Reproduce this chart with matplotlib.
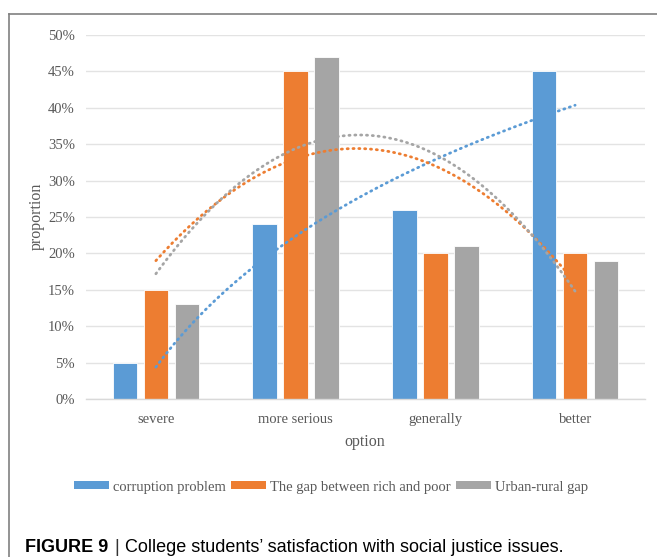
import numpy as np
import matplotlib
matplotlib.use("Agg")
import matplotlib.pyplot as plt
from matplotlib.lines import Line2D
from matplotlib.patches import Patch

# Survey results (percent of respondents)
categories = ["severe", "more serious", "generally", "better"]
corruption = [5, 24, 26, 45]
rich_poor_gap = [15, 45, 20, 20]
urban_rural_gap = [13, 47, 21, 19]
series_names = ["corruption problem", "The gap between rich and poor", "Urban-rural gap"]
y_ticks = [0, 5, 10, 15, 20, 25, 30, 35, 40, 45, 50]

colors = ["#5B9BD5", "#ED7D31", "#A5A5A5"]
text_color = "#595959"
serif = ["Liberation Serif", "DejaVu Serif"]
sans = ["Liberation Sans", "DejaVu Sans"]

W, H = 657, 557
fig = plt.figure(figsize=(W / 100, H / 100), dpi=100)
ax = fig.add_axes([86 / W, (H - 399) / H, (645 - 86) / W, (399 - 35) / H])

x = np.arange(len(categories))
bar_w = 0.175
offset = 0.222
all_series = [corruption, rich_poor_gap, urban_rural_gap]
for i, (vals, c) in enumerate(zip(all_series, colors)):
    ax.bar(x + (i - 1) * offset, vals, width=bar_w, color=c,
           edgecolor="white", linewidth=0.6, zorder=2)

# Trendlines: logarithmic for corruption, 2nd-order polynomial for the others
xs = np.linspace(1, 4, 200)
b, a = np.polyfit(np.log(np.arange(1, 5)), corruption, 1)
trend_blue = a + b * np.log(xs)
trend_orange = np.polyval(np.polyfit(np.arange(1, 5), rich_poor_gap, 2), xs)
trend_gray = np.polyval(np.polyfit(np.arange(1, 5), urban_rural_gap, 2), xs)
for tr, c in zip([trend_blue, trend_orange, trend_gray], colors):
    ax.plot(xs - 1, tr, color=c, lw=2.0, linestyle=(0, (0.4, 1.7)),
            dash_capstyle="round", zorder=3)

ax.set_xlim(-0.5, 3.5)
ax.set_ylim(0, 50)
ax.set_yticks(y_ticks)
ax.set_yticklabels([f"{t}%" for t in y_ticks], fontfamily=serif,
                   fontsize=10.5, color=text_color)
ax.set_xticks(x)
ax.set_xticklabels(categories, fontfamily=serif, fontsize=10.5, color=text_color)
ax.tick_params(axis="both", length=0)
ax.tick_params(axis="y", pad=8)
ax.tick_params(axis="x", pad=10)
for s in ["top", "right", "left"]:
    ax.spines[s].set_visible(False)
ax.spines["bottom"].set_color("#D9D9D9")
ax.spines["bottom"].set_linewidth(1.0)
ax.yaxis.grid(True, color="#E3E3E3", linewidth=1.0, zorder=0)
ax.set_axisbelow(True)

fig.text(37 / W, 1 - 216 / H, "proportion", rotation=90, ha="center",
         va="center", fontfamily=serif, fontsize=11.5, color=text_color)
fig.text(365 / W, 1 - 442 / H, "option", ha="center", va="center",
         fontfamily=serif, fontsize=11.5, color=text_color)

handles = [Patch(facecolor=c, edgecolor="none") for c in colors]
leg = fig.legend(handles, series_names, loc="center", ncol=3,
                 bbox_to_anchor=(331 / W, 1 - 487 / H), frameon=False,
                 prop={"family": serif, "size": 10.5},
                 handlelength=2.4, handleheight=0.45, handletextpad=0.3,
                 columnspacing=0.35)
for t in leg.get_texts():
    t.set_color(text_color)

# Outer frame (top and left edges)
fig.add_artist(Line2D([9 / W, 1.0], [1 - 14 / H, 1 - 14 / H],
                      transform=fig.transFigure, color="#808080", lw=1.2))
fig.add_artist(Line2D([9 / W, 9 / W], [0, 1 - 14 / H],
                      transform=fig.transFigure, color="#808080", lw=1.2))

# Caption
cap1 = fig.text(25 / W, 1 - 548 / H, "FIGURE 9", fontfamily=sans,
                fontweight="bold", fontsize=13, va="center", color="black")
fig.canvas.draw()
bb = cap1.get_window_extent()
sep = fig.text(bb.x1 / W + 6 / W, 1 - 548 / H, "|", fontfamily=sans,
               fontsize=13, va="center", color="#333333")
fig.canvas.draw()
bb2 = sep.get_window_extent()
fig.text(bb2.x1 / W + 6 / W, 1 - 548 / H,
         "College students\u2019 satisfaction with social justice issues.",
         fontfamily=sans, fontsize=13, va="center", color="black")

fig.savefig("out.png", dpi=100)
